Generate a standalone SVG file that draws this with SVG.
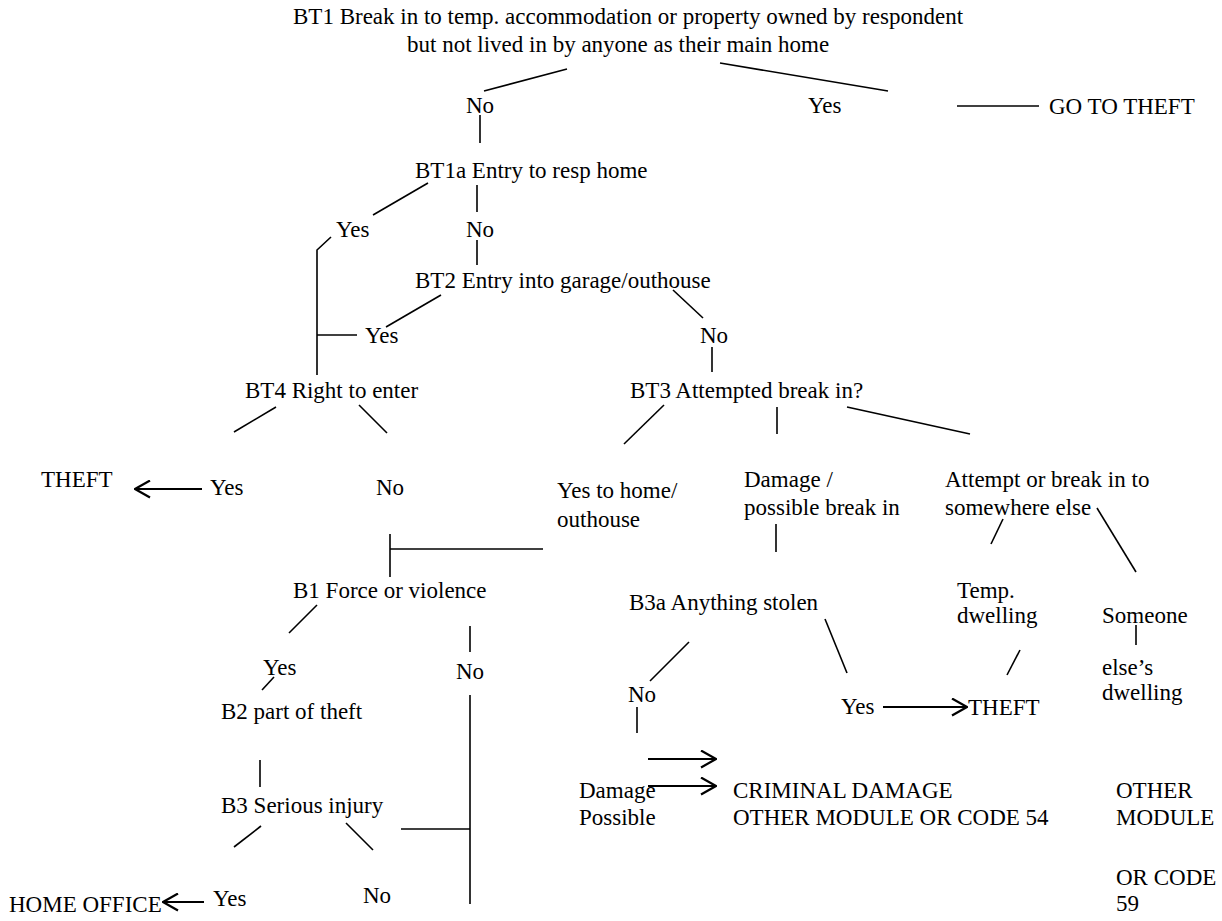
<svg xmlns="http://www.w3.org/2000/svg" width="1222" height="921" viewBox="0 0 1222 921">
  <style>
    text { font-family: "Liberation Serif", "Times New Roman", serif; font-size: 23px; fill: #000; }
    .ln { stroke: #000; stroke-width: 1.6; fill: none; }
    .ar { stroke: #000; stroke-width: 2.2; fill: none; marker-end: url(#chev); }
  </style>
  <defs>
    <!-- open chevron arrowhead -->
    <marker id="chev" viewBox="0 0 17 19" refX="16" refY="9.5" markerWidth="17" markerHeight="19" markerUnits="userSpaceOnUse" orient="auto">
      <path d="M1,1 L16,9.5 L1,18" fill="none" stroke="#000" stroke-width="2.2"/>
    </marker>
  </defs>
  <rect width="1222" height="921" fill="#fff"/>

  <g id="connectors">
    <line class="ln" x1="567" y1="69" x2="484" y2="91"/>
    <line class="ln" x1="720" y1="63" x2="888" y2="91"/>
    <line class="ln" x1="957" y1="106" x2="1039" y2="106"/>
    <line class="ln" x1="480" y1="115" x2="480" y2="143"/>
    <line class="ln" x1="428" y1="183" x2="373" y2="215"/>
    <line class="ln" x1="477" y1="185" x2="477" y2="212"/>
    <polyline class="ln" points="331,237 317,250 317,375"/>
    <line class="ln" x1="477" y1="240" x2="477" y2="265"/>
    <line class="ln" x1="441" y1="295" x2="386" y2="327"/>
    <line class="ln" x1="317" y1="335" x2="357" y2="335"/>
    <line class="ln" x1="673" y1="290" x2="703" y2="318"/>
    <line class="ln" x1="712" y1="347" x2="712" y2="372"/>
    <line class="ln" x1="276" y1="407" x2="234" y2="432"/>
    <line class="ln" x1="359" y1="405" x2="387" y2="433"/>
    <line class="ar" x1="202" y1="489" x2="135" y2="489"/>
    <line class="ln" x1="664" y1="405" x2="624" y2="444"/>
    <line class="ln" x1="777" y1="407" x2="777" y2="434"/>
    <line class="ln" x1="847" y1="407" x2="970" y2="434"/>
    <line class="ln" x1="390" y1="549" x2="543" y2="549"/>
    <line class="ln" x1="390" y1="534" x2="390" y2="577"/>
    <line class="ln" x1="776" y1="524" x2="776" y2="552"/>
    <line class="ln" x1="1003" y1="519" x2="991" y2="544"/>
    <line class="ln" x1="1097" y1="508" x2="1136" y2="572"/>
    <line class="ln" x1="317" y1="605" x2="289" y2="633"/>
    <line class="ln" x1="470" y1="626" x2="470" y2="652"/>
    <line class="ln" x1="689" y1="642" x2="650" y2="681"/>
    <line class="ln" x1="825" y1="619" x2="847" y2="673"/>
    <line class="ln" x1="1020" y1="650" x2="1007" y2="675"/>
    <line class="ln" x1="1136" y1="625" x2="1136" y2="645"/>
    <line class="ln" x1="274" y1="677" x2="262" y2="690"/>
    <line class="ln" x1="470" y1="695" x2="470" y2="904"/>
    <line class="ln" x1="637" y1="707" x2="637" y2="733"/>
    <line class="ar" x1="883" y1="707" x2="967" y2="707"/>
    <line class="ar" x1="648" y1="759" x2="716" y2="759"/>
    <line class="ar" x1="648" y1="786" x2="716" y2="786"/>
    <line class="ln" x1="260" y1="760" x2="260" y2="787"/>
    <line class="ln" x1="261" y1="826" x2="234" y2="847"/>
    <line class="ln" x1="346" y1="823" x2="373" y2="850"/>
    <line class="ln" x1="401" y1="829" x2="470" y2="829"/>
    <line class="ar" x1="204" y1="902" x2="163" y2="902"/>
  </g>

  <g id="bt1">
    <text x="293" y="24">BT1 Break in to temp. accommodation or property owned by respondent</text>
    <text x="407" y="52">but not lived in by anyone as their main home</text>
  </g>
  <g id="bt1-no"><text x="466" y="113">No</text></g>
  <g id="bt1-yes"><text x="808" y="113">Yes</text></g>
  <g id="go-to-theft"><text x="1049" y="114">GO TO THEFT</text></g>
  <g id="bt1a"><text x="415" y="178">BT1a Entry to resp home</text></g>
  <g id="bt1a-yes"><text x="336" y="237">Yes</text></g>
  <g id="bt1a-no"><text x="466" y="237">No</text></g>
  <g id="bt2"><text x="415" y="288">BT2 Entry into garage/outhouse</text></g>
  <g id="bt2-yes"><text x="365" y="343">Yes</text></g>
  <g id="bt2-no"><text x="700" y="343">No</text></g>
  <g id="bt4"><text x="245" y="398">BT4 Right to enter</text></g>
  <g id="bt3"><text x="630" y="398">BT3 Attempted break in?</text></g>
  <g id="theft-left"><text x="41" y="487">THEFT</text></g>
  <g id="bt4-yes"><text x="210" y="495">Yes</text></g>
  <g id="bt4-no"><text x="376" y="495">No</text></g>
  <g id="bt3-home">
    <text x="557" y="498">Yes to home/</text>
    <text x="557" y="527">outhouse</text>
  </g>
  <g id="bt3-damage">
    <text x="744" y="487">Damage /</text>
    <text x="744" y="515">possible break in</text>
  </g>
  <g id="bt3-elsewhere">
    <text x="945" y="487">Attempt or break in to</text>
    <text x="945" y="515">somewhere else</text>
  </g>
  <g id="b1"><text x="293" y="598">B1 Force or violence</text></g>
  <g id="b3a"><text x="629" y="610">B3a Anything stolen</text></g>
  <g id="temp-dwelling">
    <text x="957" y="598">Temp.</text>
    <text x="957" y="623">dwelling</text>
  </g>
  <g id="someone-else">
    <text x="1102" y="623">Someone</text>
    <text x="1102" y="675">else’s</text>
    <text x="1102" y="700">dwelling</text>
  </g>
  <g id="b1-yes"><text x="263" y="675">Yes</text></g>
  <g id="b1-no"><text x="456" y="679">No</text></g>
  <g id="b3a-no"><text x="628" y="702">No</text></g>
  <g id="b3a-yes"><text x="841" y="714">Yes</text></g>
  <g id="theft-right"><text x="968" y="715">THEFT</text></g>
  <g id="b2"><text x="221" y="719">B2 part of theft</text></g>
  <g id="b3"><text x="221" y="813">B3 Serious injury</text></g>
  <g id="damage-possible">
    <text x="579" y="798">Damage</text>
    <text x="579" y="825">Possible</text>
  </g>
  <g id="criminal-damage">
    <text x="733" y="798">CRIMINAL DAMAGE</text>
    <text x="733" y="825">OTHER MODULE OR CODE 54</text>
  </g>
  <g id="other-module">
    <text x="1116" y="798">OTHER</text>
    <text x="1116" y="825">MODULE</text>
    <text x="1116" y="885">OR CODE</text>
    <text x="1116" y="911">59</text>
  </g>
  <g id="home-office"><text x="9" y="912">HOME OFFICE</text></g>
  <g id="b3-yes"><text x="213" y="906">Yes</text></g>
  <g id="b3-no"><text x="363" y="903">No</text></g>
</svg>
